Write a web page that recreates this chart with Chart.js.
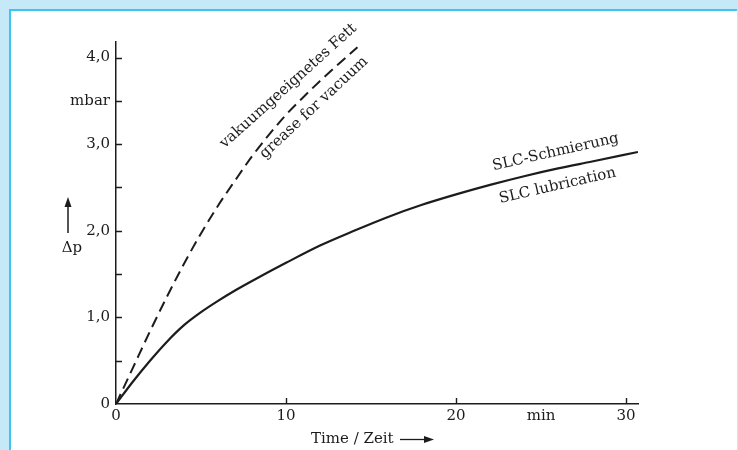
<!DOCTYPE html>
<html>
<head>
<meta charset="utf-8">
<script src="https://cdn.jsdelivr.net/npm/chart.js@4.4.1/dist/chart.umd.min.js"></script>
<style>
  html, body { margin: 0; padding: 0; background: #c6e9f8; overflow: hidden; }
  #frame { position: absolute; left: 9px; top: 9px; width: 726px; height: 460px;
           background: #fff; border-left: 2px solid #3fc3f0; border-top: 2px solid #3fc3f0; }
  #c { position: absolute; left: 0; top: 0; }
</style>
</head>
<body>
<div id="frame"></div>
<canvas id="c" width="738" height="450"></canvas>
<script>
// values (time in min, pressure rise in mbar)
var greaseTime = [0, 1, 2, 3, 4, 5, 6, 7, 8, 9, 10, 11, 12, 13, 14.2];
var greaseDp   = [0, 0.42, 0.84, 1.24, 1.62, 1.97, 2.29, 2.58, 2.86, 3.11, 3.34, 3.54, 3.73, 3.91, 4.12];
var slcTime = [0, 1, 2, 3, 4, 5, 6, 7, 8, 10, 12, 14, 16, 18, 20, 22, 24, 26, 28, 30.7];
var slcDp   = [0, 0.26, 0.5, 0.72, 0.91, 1.06, 1.19, 1.31, 1.42, 1.63, 1.83, 2.0, 2.16, 2.3, 2.42, 2.53, 2.63, 2.72, 2.8, 2.91];

var yTickVals   = [0, 0.5, 1, 1.5, 2, 2.5, 3, 3.5, 4];
var yTickLabels = ['0', '', '1,0', '', '2,0', '', '3,0', 'mbar', '4,0'];
var xTickVals   = [0, 10, 20, 25, 30];
var xTickLabels = ['0', '10', '20', 'min', '30'];
var xMarkVals   = [10, 20, 30];

var ink = '#1c1c1c';
var serif = '"DejaVu Serif", "Liberation Serif", serif';

function pts(xs, ys) {
  return xs.map(function (t, i) { return { x: t, y: ys[i] }; });
}

// curve captions, placed in data units and rotated
var notes = [
  { text: 'vakuumgeeignetes Fett', t: 6.4, p: 2.95, a: -42 },
  { text: 'grease for vacuum',     t: 8.75, p: 2.83, a: -43 },
  { text: 'SLC-Schmierung',        t: 22.2, p: 2.7, a: -12.7 },
  { text: 'SLC lubrication',       t: 22.6, p: 2.32, a: -13 }
];

var decor = {
  id: 'decor',
  afterDraw: function (chart) {
    var ctx = chart.ctx, x = chart.scales.x, y = chart.scales.y;
    ctx.save();
    ctx.strokeStyle = ink;
    ctx.fillStyle = ink;
    ctx.lineWidth = 1.4;
    // tick marks point into the plot
    ctx.beginPath();
    yTickVals.forEach(function (v) {
      if (v === 0) return;
      var py = Math.round(y.getPixelForValue(v)) + 0.5;
      ctx.moveTo(x.left, py); ctx.lineTo(x.left + 6, py);
    });
    xMarkVals.forEach(function (v) {
      var px = Math.round(x.getPixelForValue(v)) + 0.5;
      ctx.moveTo(px, y.bottom); ctx.lineTo(px, y.bottom - 6);
    });
    ctx.stroke();

    ctx.font = '15px ' + serif;
    ctx.textBaseline = 'alphabetic';
    notes.forEach(function (n) {
      ctx.save();
      ctx.translate(x.getPixelForValue(n.t), y.getPixelForValue(n.p));
      ctx.rotate(n.a * Math.PI / 180);
      ctx.fillText(n.text, 0, 0);
      ctx.restore();
    });

    // y title with arrow
    var ax = x.left - 48;
    ctx.textAlign = 'center';
    ctx.fillText('\u0394p', ax + 4, 252);
    ctx.beginPath();
    ctx.lineWidth = 1.5;
    ctx.moveTo(ax, 233); ctx.lineTo(ax, 205);
    ctx.stroke();
    ctx.beginPath();
    ctx.moveTo(ax, 197); ctx.lineTo(ax - 3.5, 207); ctx.lineTo(ax + 3.5, 207); ctx.closePath();
    ctx.fill();

    // x title with arrow
    ctx.textAlign = 'left';
    ctx.fillText('Time / Zeit', 311, 443);
    ctx.beginPath();
    ctx.lineWidth = 1.3;
    ctx.moveTo(400, 439.5); ctx.lineTo(426, 439.5);
    ctx.stroke();
    ctx.beginPath();
    ctx.moveTo(434, 439.5); ctx.lineTo(424, 436); ctx.lineTo(424, 443); ctx.closePath();
    ctx.fill();
    ctx.restore();
  }
};

new Chart(document.getElementById('c'), {
  type: 'line',
  data: {
    datasets: [
      {
        label: 'vakuumgeeignetes Fett / grease for vacuum',
        data: pts(greaseTime, greaseDp),
        borderColor: ink,
        borderWidth: 2,
        borderDash: [11, 6],
        pointRadius: 0,
        fill: false,
        cubicInterpolationMode: 'monotone'
      },
      {
        label: 'SLC-Schmierung / SLC lubrication',
        data: pts(slcTime, slcDp),
        borderColor: ink,
        borderWidth: 2.2,
        pointRadius: 0,
        fill: false,
        cubicInterpolationMode: 'monotone'
      }
    ]
  },
  options: {
    responsive: false,
    animation: false,
    devicePixelRatio: 1,
    layout: { padding: { left: 0, top: 42, right: 100, bottom: 0 } },
    plugins: { legend: { display: false }, tooltip: { enabled: false } },
    scales: {
      x: {
        type: 'linear',
        min: 0,
        max: 30.7,
        grid: { display: false, drawTicks: false },
        border: { display: true, color: ink, width: 1.5 },
        afterBuildTicks: function (s) { s.ticks = xTickVals.map(function (v) { return { value: v }; }); },
        afterFit: function (s) { s.height = 46; },
        ticks: {
          padding: 3,
          autoSkip: false,
          maxRotation: 0,
          color: ink,
          font: { family: serif, size: 15 },
          callback: function (v) { return xTickLabels[xTickVals.indexOf(v)]; }
        }
      },
      y: {
        type: 'linear',
        min: 0,
        max: 4.18,
        grid: { display: false, drawTicks: false },
        border: { display: true, color: ink, width: 1.5 },
        afterBuildTicks: function (s) { s.ticks = yTickVals.map(function (v) { return { value: v }; }); },
        afterFit: function (s) { s.width = 116; },
        ticks: {
          padding: 6,
          autoSkip: false,
          color: ink,
          font: { family: serif, size: 15 },
          callback: function (v) { return yTickLabels[yTickVals.indexOf(v)]; }
        }
      }
    }
  },
  plugins: [decor]
});
</script>
</body>
</html>
